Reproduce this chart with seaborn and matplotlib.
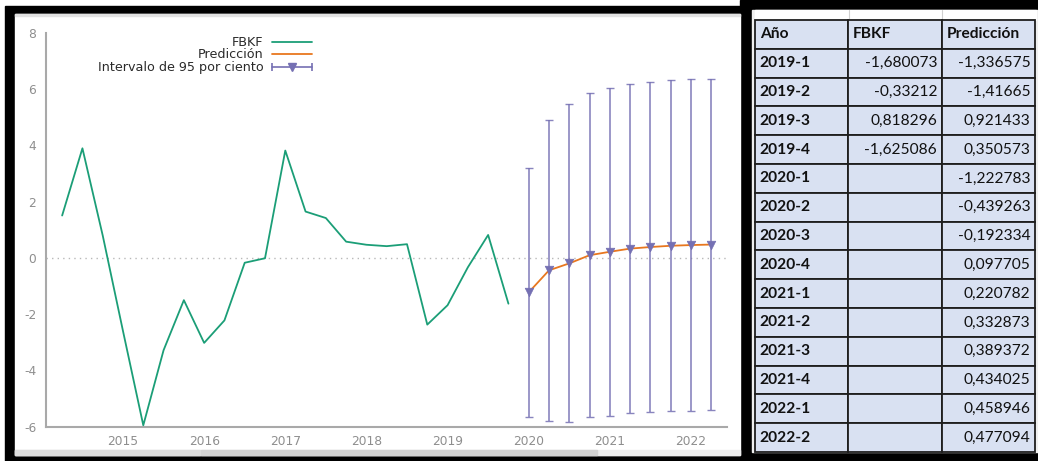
import matplotlib
matplotlib.use("Agg")
import numpy as np
import pandas as pd
import matplotlib.pyplot as plt
from matplotlib.patches import Rectangle
from matplotlib.lines import Line2D
from matplotlib.legend_handler import HandlerBase
import seaborn as sns

# ---------------- data ----------------
# FBKF, quarterly, 2014-2 .. 2019-4
fbkf_start = (2014, 2)
fbkf = [1.51, 3.90, 0.80, -2.60, -5.95, -3.28, -1.50, -3.02, -2.22, -0.17,
        -0.01, 3.82, 1.65, 1.42, 0.58, 0.47, 0.42, 0.49, -2.37,
        -1.680073, -0.33212, 0.818296, -1.625086]

# in-sample fitted values for 2019
fitted_2019 = [-1.336575, -1.41665, 0.921433, 0.350573]

# out-of-sample forecast, 2020-1 .. 2022-2, with 95% interval half-widths
forecast_start = (2020, 1)
forecast = [-1.222783, -0.439263, -0.192334, 0.097705, 0.220782,
            0.332873, 0.389372, 0.434025, 0.458946, 0.477094]
interval_halfwidth = [4.42, 5.36, 5.65, 5.77, 5.84, 5.85, 5.87, 5.88, 5.89, 5.87]

year_ticks = [2015, 2016, 2017, 2018, 2019, 2020, 2021, 2022]
value_ticks = [-6, -4, -2, 0, 2, 4, 6, 8]

legend_labels = ["FBKF", "Predicción", "Intervalo de 95 por ciento"]
table_header = ["Año", "FBKF", "Predicción"]
table_periods = ["2019-1", "2019-2", "2019-3", "2019-4",
                 "2020-1", "2020-2", "2020-3", "2020-4",
                 "2021-1", "2021-2", "2021-3", "2021-4",
                 "2022-1", "2022-2"]


def quarter_times(start, n):
    y, q = start
    out = []
    for _ in range(n):
        out.append(y + (q - 1) / 4)
        q += 1
        if q > 4:
            q = 1
            y += 1
    return np.array(out)


def es_number(v):
    s = ("%.6f" % v).rstrip("0").rstrip(".")
    return s.replace(".", ",")


t_hist = quarter_times(fbkf_start, len(fbkf))
t_fc = quarter_times(forecast_start, len(forecast))
hist_df = pd.DataFrame({"t": t_hist, "v": fbkf})
fc_df = pd.DataFrame({"t": t_fc, "v": forecast, "hw": interval_halfwidth})

# ---------------- style ----------------
sns.set_style("white")
plt.rcParams["font.family"] = ["DejaVu Sans"]

GREEN = "#1b9e77"
ORANGE = "#e8771f"
PURPLE = "#7570b3"
AXIS_GREY = "#a9a9a9"
LABEL_GREY = "#8e8e8e"

W, H = 1038, 461
fig = plt.figure(figsize=(W / 100, H / 100), dpi=100)
fig.patch.set_facecolor("white")

# ---------------- window frame (pixel coordinates) ----------------
bg = fig.add_axes([0, 0, 1, 1])
bg.set_xlim(0, W)
bg.set_ylim(H, 0)
bg.axis("off")
bg.add_patch(Rectangle((5, 6), 740, H - 6, color="black"))
bg.add_patch(Rectangle((740, 0), W - 740, H, color="black"))
bg.add_patch(Rectangle((15, 14), 725, 441, color="white"))
bg.add_patch(Rectangle((15, 14), 725, 2.5, color="#e2e2e2"))
bg.add_patch(Rectangle((15, 450), 725, 5, color="#ececec"))
bg.add_patch(Rectangle((15, 450), 185, 5, color="#dcdcdc"))
bg.add_patch(Rectangle((201, 450), 396, 5, color="#d2d2d2"))
# spreadsheet strip above the table
bg.add_patch(Rectangle((752, 10), W - 752, 442, color="#efefef"))
bg.add_patch(Rectangle((755, 10), 281, 10, color="white"))
for xb in (849.3, 942.3):
    bg.plot([xb, xb], [10, 20], color="#d0d0d0", lw=0.8)

# ---------------- chart ----------------
ax = fig.add_axes([46 / W, (H - 426.7) / H, (726.7 - 46) / W, (426.7 - 33) / H])
ax.set_facecolor("white")

ax.axhline(0, color="#b8b8b8", lw=1.0, ls=(0, (1, 3)), zorder=1)

sns.lineplot(data=hist_df, x="t", y="v", ax=ax, color=GREEN, lw=1.3,
             estimator=None, sort=False, legend=False, zorder=3)
ax.errorbar(fc_df["t"], fc_df["v"], yerr=fc_df["hw"], fmt="none",
            ecolor=PURPLE, elinewidth=1.2, capsize=3, capthick=1.0,
            alpha=0.85, zorder=2)
sns.lineplot(data=fc_df, x="t", y="v", ax=ax, color=ORANGE, lw=1.3,
             estimator=None, sort=False, legend=False, zorder=3)
sns.scatterplot(data=fc_df, x="t", y="v", ax=ax, marker="v", s=38,
                color=PURPLE, edgecolor=PURPLE, linewidth=0.5,
                legend=False, zorder=4)

ax.set_xlim(2014.051, 2022.44)
ax.set_ylim(-6, 8)
ax.set_xticks(year_ticks)
ax.set_xticklabels([str(y) for y in year_ticks])
ax.set_yticks(value_ticks)
ax.set_yticklabels([str(v) for v in value_ticks])
ax.set_xlabel("")
ax.set_ylabel("")
for side in ("top", "right"):
    ax.spines[side].set_visible(False)
for side in ("left", "bottom"):
    ax.spines[side].set_color(AXIS_GREY)
    ax.spines[side].set_linewidth(1.5)
ax.tick_params(axis="both", direction="in", length=4, width=1,
               color=AXIS_GREY, labelcolor=LABEL_GREY, labelsize=8.8)
ax.tick_params(axis="x", pad=6)
ax.tick_params(axis="y", pad=7)


class IntervalHandler(HandlerBase):
    def create_artists(self, legend, orig_handle, xdescent, ydescent,
                       width, height, fontsize, trans):
        y = height / 2 - ydescent
        x0, x1 = -xdescent, width - xdescent
        line = Line2D([x0, x1], [y, y], color=PURPLE, lw=1.2)
        caps = Line2D([x0, x1], [y, y], ls="none", marker="|", ms=6,
                      mew=1.2, color=PURPLE)
        tri = Line2D([(x0 + x1) / 2], [y], ls="none", marker="v", ms=6,
                     color=PURPLE)
        for a in (line, caps, tri):
            a.set_transform(trans)
        return [line, caps, tri]


h_fbkf = Line2D([], [], color=GREEN, lw=1.3)
h_pred = Line2D([], [], color=ORANGE, lw=1.3)
h_int = Line2D([], [], color=PURPLE)
leg = ax.legend([h_fbkf, h_pred, h_int], legend_labels,
                handler_map={h_int: IntervalHandler()},
                loc="upper right", bbox_to_anchor=(312 / W, 1 - 36 / H),
                bbox_transform=fig.transFigure, frameon=False,
                markerfirst=False, fontsize=9.2, handlelength=3.1,
                handletextpad=0.7, labelspacing=-0.04, borderpad=0,
                borderaxespad=0)
for txt in leg.get_texts():
    txt.set_color("#2a2a2a")

# ---------------- table ----------------
tax = fig.add_axes([755 / W, (H - 452) / H, 280 / W, 432 / H])
tax.axis("off")
pred_all = fitted_2019 + forecast
fbkf_2019 = fbkf[-4:]
rows = [table_header]
for i, period in enumerate(table_periods):
    f = es_number(fbkf_2019[i]) if i < len(fbkf_2019) else ""
    rows.append([period, f, es_number(pred_all[i])])

tbl = tax.table(cellText=rows, cellLoc="right", bbox=[0, 0, 1, 1])
tbl.auto_set_font_size(False)
table_font = ["Lato", "DejaVu Sans"]
for (r, c), cell in tbl.get_celld().items():
    cell.set_facecolor("#d9e1f2")
    cell.set_edgecolor("#1e1e1e")
    cell.set_linewidth(1.3)
    cell.PAD = 0.05
    bold = (r == 0) or (c == 0)
    cell.set_text_props(fontsize=11.2, family=table_font,
                        fontweight="bold" if bold else "normal",
                        color="#111111",
                        ha="left" if bold else "right")

fig.savefig("out.png", dpi=100)
